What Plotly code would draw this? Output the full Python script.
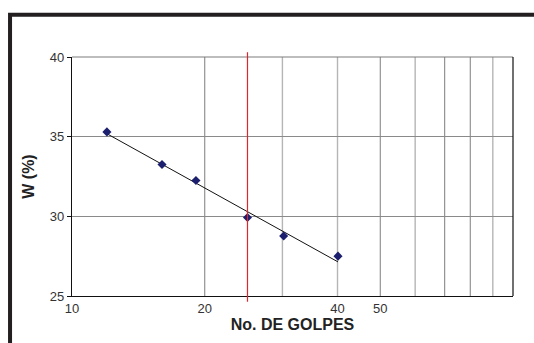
import numpy as np
import plotly.graph_objects as go

# Data
golpes = [12, 16, 19.1, 25, 30.2, 40.1]
humedad = [35.3, 33.25, 32.25, 29.93, 28.77, 27.5]
x_ticks = [10, 20, 40, 50]
y_ticks = [25, 30, 35, 40]
grid_dark = [20, 50, 70, 80]
grid_light = [30, 40, 60, 90]
ref_golpes = 25

# Semi-log linear trend (Excel style)
lx = np.log10(golpes)
b, a = np.polyfit(lx, humedad, 1)
trend_x = np.array([min(golpes), max(golpes)])
trend_y = a + b * np.log10(trend_x)

fig = go.Figure()
fig.add_trace(go.Scatter(x=trend_x, y=trend_y, mode="lines",
                         line=dict(color="#111111", width=1), hoverinfo="skip",
                         showlegend=False))
fig.add_trace(go.Scatter(x=golpes, y=humedad, mode="markers",
                         marker=dict(symbol="diamond", size=7, color="#1b1f6e",
                                     line=dict(width=0)),
                         showlegend=False))

shapes = []
for g in grid_dark:
    shapes.append(dict(type="line", xref="x", yref="paper", x0=g, x1=g, y0=0, y1=1,
                       line=dict(color="#7d7d7d", width=1), layer="below"))
for g in grid_light:
    shapes.append(dict(type="line", xref="x", yref="paper", x0=g, x1=g, y0=0, y1=1,
                       line=dict(color="#b5b5b5", width=1.4), layer="below"))
# plot frame: top gray, right black
shapes.append(dict(type="line", xref="paper", yref="paper", x0=0, x1=1, y0=1, y1=1,
                   line=dict(color="#7d7d7d", width=1.2)))
shapes.append(dict(type="line", xref="paper", yref="paper", x0=1, x1=1, y0=0, y1=1,
                   line=dict(color="#111111", width=1.2)))
# reference line at 25 blows
shapes.append(dict(type="line", xref="x", yref="paper", x0=ref_golpes, x1=ref_golpes,
                   y0=-0.024, y1=1.02, line=dict(color="#e0262a", width=1.2)))
# outer thick frame (top-left)
shapes.append(dict(type="path", xref="paper", yref="paper",
                   path="M -0.1405,-0.3 L -0.1405,1.177 L 1.2,1.177",
                   line=dict(color="#231f20", width=4)))

fig.update_layout(
    width=534, height=343,
    margin=dict(l=71.5, r=21, t=56.5, b=47),
    paper_bgcolor="white", plot_bgcolor="white",
    font=dict(family="Liberation Sans, Arial, sans-serif", color="#333333"),
    shapes=shapes,
    xaxis=dict(type="log", range=[1, 2], tickvals=x_ticks,
               ticktext=[str(v) for v in x_ticks], showgrid=False,
               showline=True, linecolor="#111111", linewidth=1.2,
               ticks="", tickfont=dict(size=13, color="#333333"),
               title=dict(text="<b>No. DE GOLPES</b>", standoff=4,
                          font=dict(size=16, color="#222222")),
               zeroline=False),
    yaxis=dict(range=[25, 40], tickvals=y_ticks, showgrid=True,
               gridcolor="#8a8a8a", gridwidth=1,
               showline=True, linecolor="#111111", linewidth=1.2,
               ticks="outside", ticklen=4, tickcolor="#111111",
               tickfont=dict(size=13, color="#333333"),
               title=dict(text="<b>W (%)</b>", standoff=11,
                          font=dict(size=16, color="#222222")),
               zeroline=False),
)

fig.write_html("out.html")
